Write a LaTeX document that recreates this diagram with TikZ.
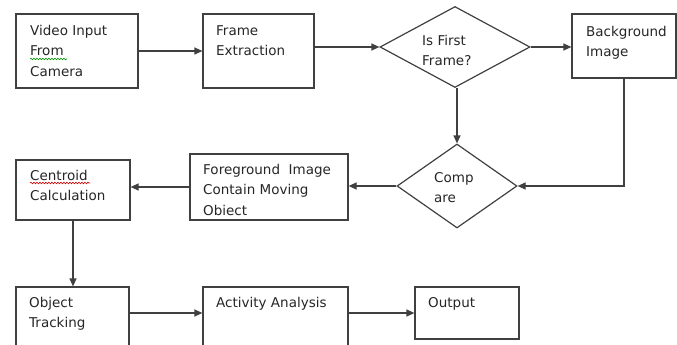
\documentclass[tikz,border=0pt]{standalone}
\usepackage{fontspec}
\setmainfont{DejaVu Sans}
\usetikzlibrary{shapes.geometric,arrows.meta,decorations.pathmorphing}
\tikzset{
  box/.style={draw=black!75, line width=1.2pt, rectangle, inner sep=0pt},
  decision/.style={draw=black!75, line width=1.2pt, diamond, inner sep=0pt},
  txt/.style={anchor=north west, inner sep=0pt, align=left, text=black!85,
    font=\fontsize{13.5}{20.5}\selectfont},
  flow/.style={draw=black!75, line width=1.2pt, -{Triangle[length=8pt,width=7pt]}},
  squiggle/.style={line width=0.6pt, decorate,
    decoration={snake, amplitude=0.8pt, segment length=3pt}},
}

\begin{document}
\begin{tikzpicture}[x=1pt, y=-1pt]
    \useasboundingbox (0,0) rectangle (677,345);
    \clip (0,0) rectangle (677,345);

    % draw figure
    \node [box, minimum width=122pt, minimum height=74pt] (video) at (77,51) {};
    \node [box, minimum width=111pt, minimum height=74pt] (frame) at (258.5,51) {};
    \node [decision, minimum width=150pt, minimum height=81pt] (first) at (455,47) {};
    \node [box, minimum width=104pt, minimum height=64pt] (bg) at (624,46) {};
    \node [decision, minimum width=120pt, minimum height=84pt] (cmp) at (457,186) {};
    \node [box, minimum width=158pt, minimum height=66pt] (fg) at (269,187) {};
    \node [box, minimum width=114pt, minimum height=60pt] (cent) at (73,190) {};
    \node [box, minimum width=113pt, minimum height=62pt] (track) at (72.5,318) {};
    \node [box, minimum width=145pt, minimum height=62pt] (act) at (275.5,318) {};
    \node [box, minimum width=104pt, minimum height=52pt] (out) at (467,313) {};

    % connectors
    \draw [flow] (video.east) -- (frame.west |- video.east);
    \draw [flow] (frame.east |- first.west) -- (first.west);
    \draw [flow] (first.east) -- (bg.west |- first.east);
    \draw [flow] (first.south -| cmp.north) -- (cmp.north);
    \draw [flow] (bg.south) |- (cmp.east);
    \draw [flow] (cmp.west) -- (fg.east |- cmp.west);
    \draw [flow] (fg.west) -- (cent.east |- fg.west);
    \draw [flow] (cent.south) -- (cent.south |- track.north);
    \draw [flow] ([yshift=5pt]track.east) -- ([yshift=5pt]act.west);
    \draw [flow] (act.east |- out.west) -- (out.west);

    % add labels
    \node [txt] (videotxt) at (30,25) {Video Input\\From\\Camera};
    \node [txt] (frametxt) at (216,25) {Frame\\Extraction};
    \node [txt] (firsttxt) at (422,35) {Is First\\Frame?};
    \node [txt] (bgtxt) at (586,26) {Background\\Image};
    \node [txt] (cmptxt) at (434,172) {Comp\\are};
    \node [txt] (fgtxt) at (203,164) {Foreground\ \ Image\\Contain Moving\\Obiect};
    \node [txt] (centtxt) at (30,170) {Centroid\\Calculation};
    \node [txt] (tracktxt) at (29,297) {Object\\Tracking};
    \node [txt] (acttxt) at (216,297) {Activity Analysis};
    \node [txt] (outtxt) at (428,297) {Output};

    % spelling marks
    \draw [squiggle, green!60!black] (30,59) -- (67,59);
    \draw [squiggle, red!80!black] (30,183) -- (90,183);
\end{tikzpicture}
\end{document}
